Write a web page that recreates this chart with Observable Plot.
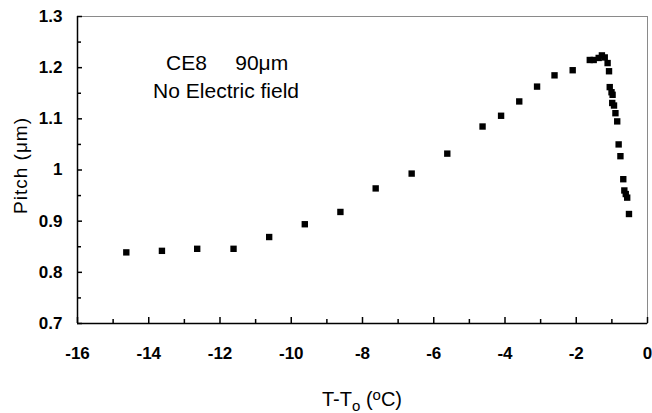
<!DOCTYPE html>
<html>
<head>
<meta charset="utf-8">
<script src="https://cdn.jsdelivr.net/npm/d3@7"></script>
<script src="https://cdn.jsdelivr.net/npm/@observablehq/plot@0.6"></script>
<style>
  html, body { margin: 0; padding: 0; background: #fff; }
</style>
</head>
<body>
<div id="chart"></div>
<script>
const xTicks = [-16, -14, -12, -10, -8, -6, -4, -2, 0];
const xTickLabels = ["-16", "-14", "-12", "-10", "-8", "-6", "-4", "-2", "0"];
const xMinorTicks = [-15, -13, -11, -9, -7, -5, -3, -1];
const yTicks = [0.7, 0.8, 0.9, 1.0, 1.1, 1.2, 1.3];
const yTickLabels = ["0.7", "0.8", "0.9", "1", "1.1", "1.2", "1.3"];
const yMinorTicks = [0.75, 0.85, 0.95, 1.05, 1.15, 1.25];
const xDomain = [-16, 0];
const yDomain = [0.7, 1.3];

// T - To (degrees C)
const temp = [-14.63, -13.63, -12.64, -11.62, -10.62, -9.62, -8.62, -7.63, -6.62, -5.62,
  -4.63, -4.11, -3.60, -3.10, -2.61, -2.10, -1.62, -1.51, -1.37, -1.28,
  -1.20, -1.12, -1.08, -1.06, -1.01, -0.98, -0.99, -0.94, -0.90, -0.85,
  -0.81, -0.76, -0.68, -0.65, -0.61, -0.57, -0.52];
// Pitch (micrometres)
const pitch = [0.839, 0.842, 0.846, 0.846, 0.869, 0.894, 0.918, 0.964, 0.993, 1.032,
  1.085, 1.106, 1.134, 1.163, 1.185, 1.195, 1.215, 1.215, 1.219, 1.224,
  1.220, 1.209, 1.193, 1.162, 1.152, 1.147, 1.131, 1.126, 1.111, 1.095,
  1.050, 1.027, 0.982, 0.960, 0.953, 0.946, 0.914];

const noteText = ["CE8", "90\u03bcm", "No Electric field"];
const noteX = [-12.94, -10.83, -11.83];
const noteY = [1.208, 1.208, 1.153];

const pts = temp.map((t, i) => ({t, p: pitch[i]}));
const noteRows = noteText.map((s, i) => ({s, x: noteX[i], y: noteY[i]}));
const xLabRows = xTicks.map((v, i) => ({v, s: xTickLabels[i]}));
const yLabRows = yTicks.map((v, i) => ({v, s: yTickLabels[i]}));

const fam = "Liberation Sans";
const mL = 77, mR = 5, mT = 16, mB = 90;
const innerW = 652 - mL - mR, innerH = 413 - mT - mB;

const el = Plot.plot({
  width: 652,
  height: 413,
  marginLeft: mL,
  marginRight: mR,
  marginTop: mT,
  marginBottom: mB,
  x: {domain: xDomain, axis: null},
  y: {domain: yDomain, axis: null},
  marks: [
    Plot.frame({stroke: "#8a8a8a"}),
    Plot.axisX(xMinorTicks, {tickSize: 4, dy: -4, tickFormat: () => "", label: null, stroke: "#000", strokeWidth: 1.5}),
    Plot.axisX(xTicks, {tickSize: 6, dy: -6, tickFormat: () => "", label: null, stroke: "#000", strokeWidth: 1.5}),
    Plot.axisY(yMinorTicks, {tickSize: 4, dx: 4, tickFormat: () => "", label: null, stroke: "#000", strokeWidth: 1.5}),
    Plot.axisY(yTicks, {tickSize: 5, dx: 5, tickFormat: () => "", label: null, stroke: "#000", strokeWidth: 1.5}),
    Plot.text(xLabRows, {x: "v", text: "s", frameAnchor: "bottom", dy: 30, lineAnchor: "middle",
      fontSize: 17, fontWeight: "bold", fontFamily: fam}),
    Plot.text(yLabRows, {y: "v", text: "s", frameAnchor: "left", dx: -15, textAnchor: "end",
      fontSize: 17, fontWeight: "bold", fontFamily: fam}),
    Plot.ruleY([yDomain[0]], {stroke: "#000", strokeWidth: 1.5}),
    Plot.ruleX([xDomain[0]], {stroke: "#000", strokeWidth: 1.5}),
    Plot.dot(pts, {x: "t", y: "p", symbol: "square", r: 3.6, fill: "#000"}),
    Plot.text(noteRows, {x: "x", y: "y", text: "s", fontSize: 21, fontFamily: fam, textAnchor: "middle"})
  ]
});

const g = d3.select(el);
const xTitle = g.append("text")
  .attr("x", mL + innerW / 2).attr("y", 406)
  .attr("text-anchor", "middle")
  .attr("font-family", fam).attr("font-size", 20).attr("fill", "#000");
xTitle.append("tspan").text("T-T");
xTitle.append("tspan").attr("baseline-shift", "-30%").attr("font-size", 15).text("o");
xTitle.append("tspan").text(" (");
xTitle.append("tspan").attr("baseline-shift", "40%").attr("font-size", 15).text("o");
xTitle.append("tspan").text("C)");

g.append("text")
  .attr("transform", `translate(27,${mT + innerH / 2 - 4}) rotate(-90)`)
  .attr("text-anchor", "middle")
  .attr("font-family", fam).attr("font-size", 19).attr("letter-spacing", 1).attr("fill", "#000")
  .text("Pitch (\u03bcm)");

document.getElementById("chart").appendChild(el);
</script>
</body>
</html>
